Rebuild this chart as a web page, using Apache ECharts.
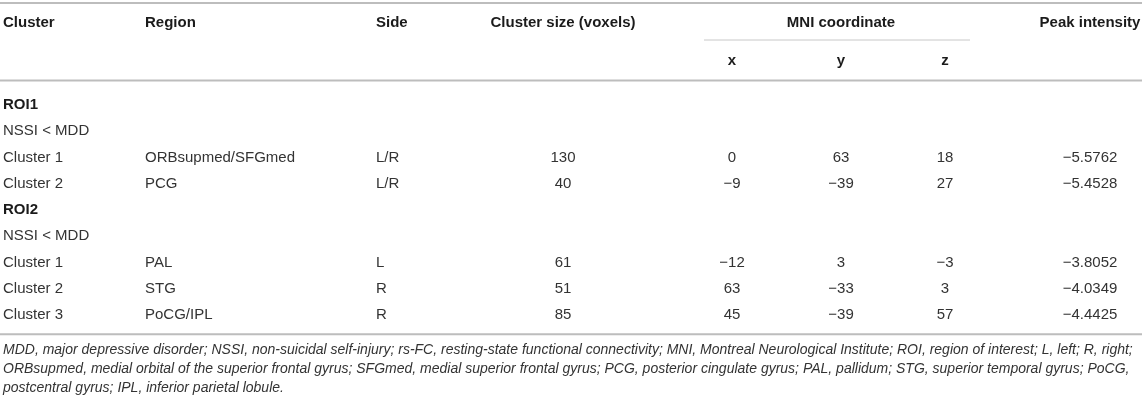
<!DOCTYPE html>
<html>
<head>
<meta charset="utf-8">
<script src="https://cdn.jsdelivr.net/npm/echarts@6/dist/echarts.min.js"></script>
<style>
  html, body { margin: 0; padding: 0; background: #fff; }
  #chart { width: 1144px; height: 403px; }
</style>
</head>
<body>
<div id="chart"></div>
<script>
// table content
var headers = ['Cluster', 'Region', 'Side', 'Cluster size (voxels)', 'MNI coordinate', 'Peak intensity'];
var coordLabels = ['x', 'y', 'z'];
var groups = ['ROI1', 'ROI2'];
var contrasts = ['NSSI < MDD', 'NSSI < MDD'];
var clusterGroup = [0, 0, 1, 1, 1];
var clusterNames = ['Cluster 1', 'Cluster 2', 'Cluster 1', 'Cluster 2', 'Cluster 3'];
var regions = ['ORBsupmed/SFGmed', 'PCG', 'PAL', 'STG', 'PoCG/IPL'];
var sides = ['L/R', 'L/R', 'L', 'R', 'R'];
var clusterSize = [130, 40, 61, 51, 85];
var mniX = [0, -9, -12, 63, 45];
var mniY = [63, -39, 3, -33, -39];
var mniZ = [18, 27, -3, 3, 57];
var peak = [-5.5762, -5.4528, -3.8052, -4.0349, -4.4425];
var footnotes = [
  'MDD, major depressive disorder; NSSI, non-suicidal self-injury; rs-FC, resting-state functional connectivity; MNI, Montreal Neurological Institute; ROI, region of interest; L, left; R, right;',
  'ORBsupmed, medial orbital of the superior frontal gyrus; SFGmed, medial superior frontal gyrus; PCG, posterior cingulate gyrus; PAL, pallidum; STG, superior temporal gyrus; PoCG,',
  'postcentral gyrus; IPL, inferior parietal lobule.'
];

// layout: column anchors on a 0..1144 x axis
var colX = [3, 145, 376, 563, 732, 841, 945, 1090];
var colAlign = ['left', 'left', 'left', 'center', 'center', 'center', 'center', 'center'];
var mniSpan = [704, 970];

var FONT = '"Liberation Sans", Arial, Helvetica, sans-serif';
var RULE = '#bdbdbd';

function num(v, d) { // real minus sign like the journal table
  var s = d != null ? Math.abs(v).toFixed(d) : String(Math.abs(v));
  return (v < 0 ? '\u2212' : '') + s;
}

// header cells: [col, row, text]
var headerCells = [
  [0, 0, headers[0]], [1, 0, headers[1]], [2, 0, headers[2]], [3, 0, headers[3]],
  [5, 0, headers[4]], [7, 0, headers[5]],
  [4, 1, coordLabels[0]], [5, 1, coordLabels[1]], [6, 1, coordLabels[2]]
];

// body cells built from the arrays
var bodyCells = [];
var bodyRows = [];
groups.forEach(function (g, gi) {
  bodyRows.push(g);
  bodyCells.push([0, bodyRows.length - 1, g, true]);
  bodyRows.push(g + '-c');
  bodyCells.push([0, bodyRows.length - 1, contrasts[gi], false]);
  clusterNames.forEach(function (c, i) {
    if (clusterGroup[i] !== gi) return;
    bodyRows.push(g + '-' + i);
    var r = bodyRows.length - 1;
    bodyCells.push([0, r, c]);
    bodyCells.push([1, r, regions[i]]);
    bodyCells.push([2, r, sides[i]]);
    bodyCells.push([3, r, String(clusterSize[i])]);
    bodyCells.push([4, r, num(mniX[i])]);
    bodyCells.push([5, r, num(mniY[i])]);
    bodyCells.push([6, r, num(mniZ[i])]);
    bodyCells.push([7, r, num(peak[i], 4)]);
  });
});

var footCells = footnotes.map(function (t, i) { return [0, i, t]; });

function textItem(cells, style) {
  return function (params, api) {
    var c = cells[params.dataIndex];
    var p = api.coord([colX[c[0]], c[1]]);
    var bold = style.bold || c[3] === true;
    return {
      type: 'text',
      style: {
        text: c[2],
        x: p[0],
        y: p[1],
        align: colAlign[c[0]],
        verticalAlign: 'middle',
        font: (style.italic ? 'italic ' : '') + (bold ? 'bold ' : '') + style.size + 'px ' + FONT,
        fill: bold ? '#1b1b1b' : '#333333'
      }
    };
  };
}

function line(x1, x2, y, w, color) {
  return { type: 'line', shape: { x1: x1, y1: y, x2: x2, y2: y }, style: { stroke: color, lineWidth: w } };
}

var xAxisBase = { type: 'value', min: 0, max: 1144, show: false };
var yAxisBase = { type: 'category', inverse: true, show: false, boundaryGap: true };

var option = {
  animation: false,
  grid: [
    { left: 0, right: 0, top: 3, height: 77.5 },
    { left: 0, right: 0, top: 91.9, height: 236.25 },
    { left: 0, right: 0, top: 341, height: 57 }
  ],
  xAxis: [
    Object.assign({ gridIndex: 0 }, xAxisBase),
    Object.assign({ gridIndex: 1 }, xAxisBase),
    Object.assign({ gridIndex: 2 }, xAxisBase)
  ],
  yAxis: [
    Object.assign({ gridIndex: 0, data: ['head', 'sub'] }, yAxisBase),
    Object.assign({ gridIndex: 1, data: bodyRows }, yAxisBase),
    Object.assign({ gridIndex: 2, data: footnotes.map(function (f, i) { return 'n' + i; }) }, yAxisBase)
  ],
  series: [
    {
      type: 'custom', xAxisIndex: 0, yAxisIndex: 0, silent: true,
      data: headerCells.map(function (c) { return [colX[c[0]], c[1]]; }),
      renderItem: textItem(headerCells, { size: 15, bold: true })
    },
    {
      type: 'custom', xAxisIndex: 1, yAxisIndex: 1, silent: true,
      data: bodyCells.map(function (c) { return [colX[c[0]], c[1]]; }),
      renderItem: textItem(bodyCells, { size: 15 })
    },
    {
      type: 'custom', xAxisIndex: 2, yAxisIndex: 2, silent: true,
      data: footCells.map(function (c) { return [colX[0], c[1]]; }),
      renderItem: textItem(footCells, { size: 14, italic: true })
    },
    { // header rules and the MNI underline
      type: 'custom', xAxisIndex: 0, yAxisIndex: 0, silent: true,
      data: [[0, 0]],
      renderItem: function (params, api) {
        var cs = params.coordSys;
        var a = api.coord([mniSpan[0], 0])[0], b = api.coord([mniSpan[1], 0])[0];
        return {
          type: 'group',
          children: [
            line(cs.x, cs.x + cs.width - 2, cs.y, 2, RULE),
            line(cs.x, cs.x + cs.width - 2, cs.y + cs.height, 2, RULE),
            line(a, b, 40, 1, '#c8c8c8')
          ]
        };
      }
    },
    { // bottom rule under the body
      type: 'custom', xAxisIndex: 1, yAxisIndex: 1, silent: true,
      data: [[0, 0]],
      renderItem: function (params, api) {
        var cs = params.coordSys;
        return line(cs.x, cs.x + cs.width - 2, cs.y + cs.height + 6, 2, RULE);
      }
    }
  ]
};

var chart = echarts.init(document.getElementById('chart'));
chart.setOption(option);
</script>
</body>
</html>
